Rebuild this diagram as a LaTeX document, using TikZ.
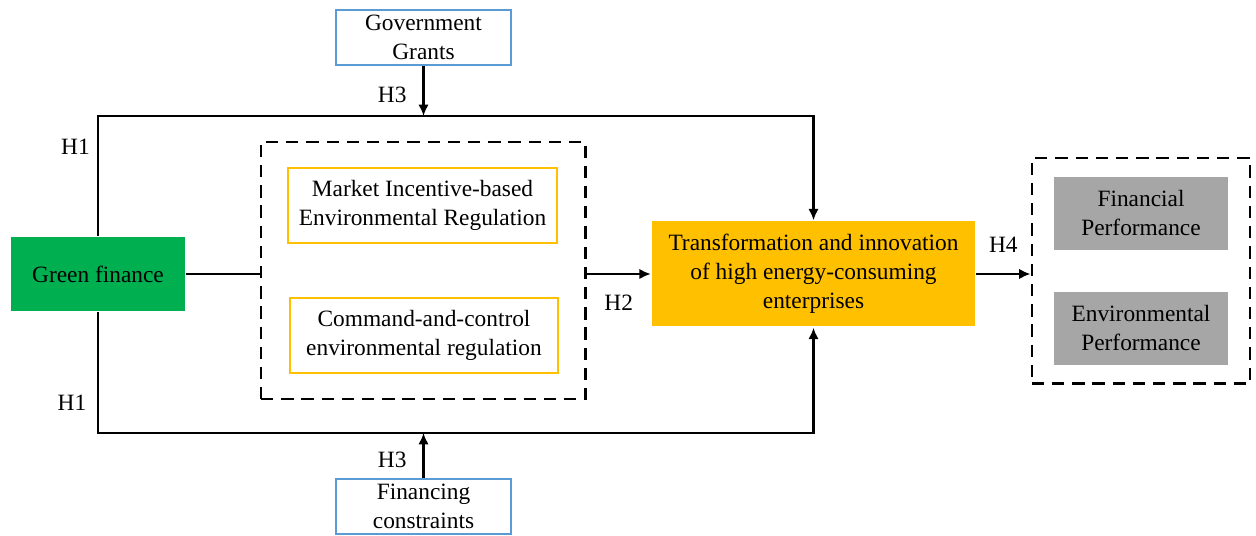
\documentclass[tikz,border=0pt]{standalone}
\usepackage{fontspec}
\setmainfont{Liberation Serif}
\usetikzlibrary{arrows.meta,positioning,fit}
\definecolor{LeafGreen}{HTML}{00B050}
\definecolor{Amber}{HTML}{FFC000}
\definecolor{SkyBlue}{HTML}{5B9BD5}
\definecolor{Slate}{HTML}{A6A6A6}

\begin{document}
\begin{tikzpicture}[font=\fontsize{13.3}{16.5}\selectfont, >={Latex[length=6.5pt,width=6pt]}, line width=1.4pt]
\tikzset{box/.style={align=center, inner sep=2pt}, grant/.style={box, draw=SkyBlue, fill=white, minimum width=3.5cm, minimum height=1.1cm}, reg/.style={box, draw=Amber, minimum width=5.37cm, minimum height=1.5cm}, outc/.style={box, fill=Slate, minimum width=3.48cm, minimum height=1.46cm}, frame/.style={draw, dash pattern=on 7pt off 4.5pt, inner sep=0pt}, lab/.style={inner sep=2pt}}
\useasboundingbox (0,0) rectangle (25.12,10.72);
\node[box, fill=LeafGreen, minimum width=3.48cm, minimum height=1.48cm] (green) at (1.96,5.24) {Green finance};
\node[grant] (gg) at (8.47,9.97) {Government\\Grants};
\node[grant] (fc) at (8.47,0.59) {Financing\\constraints};
\node[reg] (mkt) at (8.45,6.61) {Market Incentive-based\\Environmental Regulation};
\node[reg] (cmd) at (8.48,4.01) {Command-and-control\\environmental regulation};
\node[frame, fit=(mkt)(cmd), inner xsep=.52cm, inner ysep=.5cm] (regs) {};
\node[box, fill=Amber, minimum width=6.46cm, minimum height=2.1cm] (trans) at (16.27,5.24) {Transformation and innovation\\of high energy-consuming\\enterprises};
\node[outc] (fin) at (22.82,6.45) {Financial\\Performance};
\node[outc] (env) at (22.82,4.15) {Environmental\\Performance};
\node[frame, fit=(fin)(env), inner xsep=.42cm, inner ysep=.35cm] (perf) {};
% paths round the regulation block
\coordinate (topL) at (1.96,8.4);
\coordinate (botL) at (1.96,2.06);
\draw[->] (green.north) -- node[lab, left=2pt, pos=.74]{H1} (topL) -| (trans.north);
\draw[->] (green.south) -- node[lab, left=4pt, pos=.75]{H1} (botL) -| (trans.south);
\draw[->] (gg.south) -- node[lab, left=7pt, pos=.57]{H3} (gg.south |- topL);
\draw[->] (fc.north) -- node[lab, left=7pt, pos=.41]{H3} (fc.north |- botL);
\draw (green.east) -- (green.east -| regs.west);
\draw[->] (trans.west -| regs.east) -- node[lab, below=9pt]{H2} (trans.west);
\draw[->] (trans.east) -- node[lab, above=9.5pt]{H4} (trans.east -| perf.west);
\end{tikzpicture}
\end{document}
